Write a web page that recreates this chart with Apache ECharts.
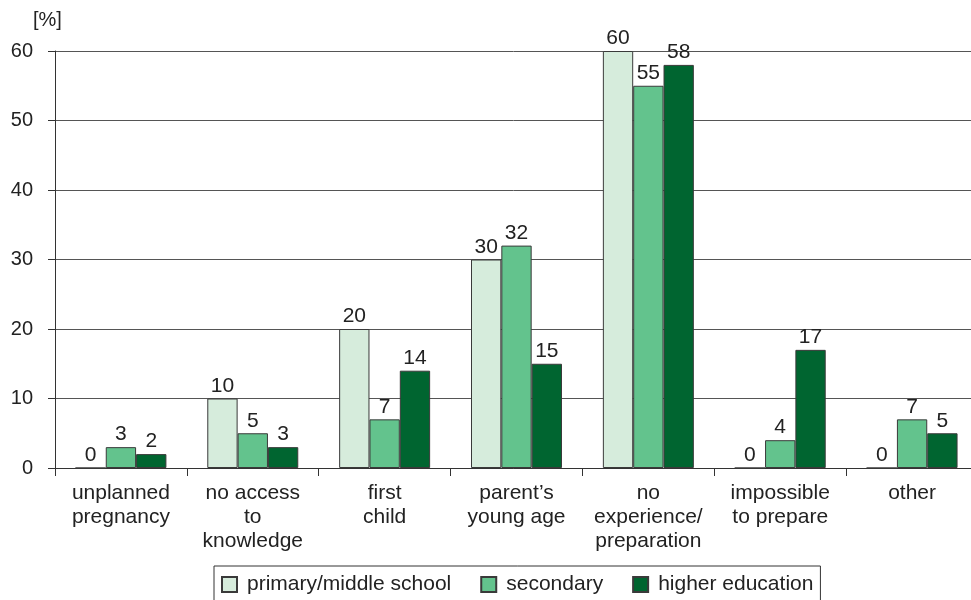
<!DOCTYPE html>
<html><head><meta charset="utf-8">
<script src="https://cdn.jsdelivr.net/npm/echarts@6/dist/echarts.min.js"></script>
<style>html,body{margin:0;padding:0;background:#fff}#c{width:971px;height:600px}</style>
</head><body><div id="c"></div>
<script>
const categories = ["unplanned\npregnancy","no access\nto\nknowledge","first\nchild","parent’s\nyoung age","no\nexperience/\npreparation","impossible\nto prepare","other"];
const primary = [0,10,20,30,60,0,0];
const secondary = [3,5,7,32,55,4,7];
const higher = [2,3,14,15,58,17,5];
const seriesNames = ["primary/middle school","secondary","higher education"];
const colors = ["#d6ecdc","#63c38d","#006530"];
const font = "Arial, 'Liberation Sans', sans-serif";
const chart = echarts.init(document.getElementById('c'));
function mk(name, data, color){
  return {name, type:'bar', data, barWidth:'23%', barGap:'0%',
    itemStyle:{color, borderColor:'#3a3a3a', borderWidth:1},
    label:{show:true, position:'top', distance:2, fontSize:21, color:'#222', fontFamily:font}};
}
chart.setOption({
  animation:false,
  textStyle:{fontFamily:font},
  grid:{left:55, width:923, top:51, height:417, containLabel:false, outerBoundsMode:'none'},
  graphic:[{type:'text', left:33, top:10, style:{text:'[%]', fontSize:20, fill:'#222', fontFamily:font}}],
  legend:{left:214, top:566, itemWidth:15, itemHeight:15, itemGap:29, padding:[8,7,10,7],
    borderColor:'#333', borderWidth:1, textStyle:{fontSize:21, color:'#222', fontFamily:font, padding:[0,0,0,5]}, icon:'rect',
    data:seriesNames},
  xAxis:{type:'category', data:categories,
    axisLine:{lineStyle:{color:'#333', width:1}},
    axisTick:{show:true, length:8, lineStyle:{color:'#333'}},
    axisLabel:{fontSize:21, color:'#222', lineHeight:24, margin:13, interval:0, fontFamily:font}},
  yAxis:{type:'value', min:0, max:60, interval:10,
    axisLine:{show:true, lineStyle:{color:'#333'}},
    axisTick:{show:true, length:7, lineStyle:{color:'#333'}},
    splitLine:{lineStyle:{color:'#555', width:1}},
    axisLabel:{fontSize:20, color:'#222', margin:22, fontFamily:font}},
  series:[mk(seriesNames[0],primary,colors[0]), mk(seriesNames[1],secondary,colors[1]), mk(seriesNames[2],higher,colors[2])]
});
</script></body></html>
